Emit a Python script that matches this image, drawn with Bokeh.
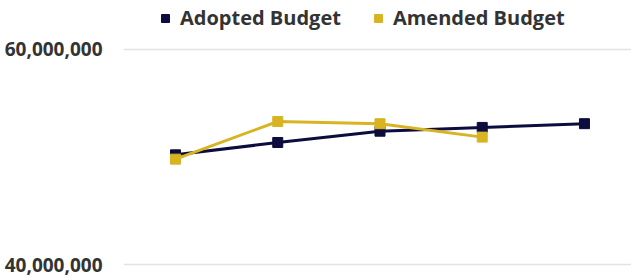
from bokeh.plotting import figure
from bokeh.models import Range1d, FixedTicker, NumeralTickFormatter, Legend, LegendItem, ColumnDataSource
from bokeh.embed import file_html
from bokeh.resources import INLINE

# Data (budget periods, values in dollars)
periods = [0, 1, 2, 3, 4]
adopted_budget = [50_200_000, 51_350_000, 52_400_000, 52_750_000, 53_100_000]
amended_periods = [0, 1, 2, 3]
amended_budget = [49_800_000, 53_300_000, 53_100_000, 51_850_000]
y_ticks = [40_000_000, 60_000_000]

NAVY = "#0c0c3e"
GOLD = "#d9b422"
TEXT = "#333333"
FONT = "Open Sans"

p = figure(width=631, height=277, output_backend="svg", toolbar_location=None,
           x_range=Range1d(-0.5086, 4.46), y_range=Range1d(39_442_000, 64_558_000),
           min_border_left=123, min_border_right=0, min_border_top=0, min_border_bottom=7)
p.outline_line_color = None
p.background_fill_color = "white"
p.border_fill_color = "white"

p.xaxis.visible = False
p.xgrid.visible = False

yax = p.yaxis[0]
yax.ticker = FixedTicker(ticks=y_ticks)
yax.formatter = NumeralTickFormatter(format="0,0")
yax.axis_line_color = None
yax.major_tick_line_color = None
yax.minor_tick_line_color = None
yax.major_label_standoff = 15
yax.major_label_text_font = FONT
yax.major_label_text_font_size = "19px"
yax.major_label_text_font_style = "bold"
yax.major_label_text_color = TEXT

p.ygrid.ticker = FixedTicker(ticks=y_ticks)
p.ygrid.grid_line_color = "#e3e3e3"
p.ygrid.grid_line_width = 1.5

src_a = ColumnDataSource(dict(x=periods, y=adopted_budget))
src_m = ColumnDataSource(dict(x=amended_periods, y=amended_budget))

p.line("x", "y", source=src_a, line_color=NAVY, line_width=3)
ra = p.scatter("x", "y", source=src_a, marker="square", size=10, fill_color=NAVY, line_color=NAVY)
p.line("x", "y", source=src_m, line_color=GOLD, line_width=3)
rm = p.scatter("x", "y", source=src_m, marker="square", size=10, fill_color=GOLD, line_color=GOLD)

legend = Legend(items=[LegendItem(label="Adopted Budget", renderers=[ra]),
                       LegendItem(label="Amended Budget", renderers=[rm])],
                location=(32, 239), orientation="horizontal",
                glyph_width=20, glyph_height=20, label_standoff=5, spacing=27,
                padding=0, margin=0, border_line_color=None, background_fill_alpha=0,
                label_text_font=FONT, label_text_font_size="20px",
                label_text_font_style="bold", label_text_color=TEXT)
p.add_layout(legend)

open("out.html", "w").write(file_html(p, INLINE))
